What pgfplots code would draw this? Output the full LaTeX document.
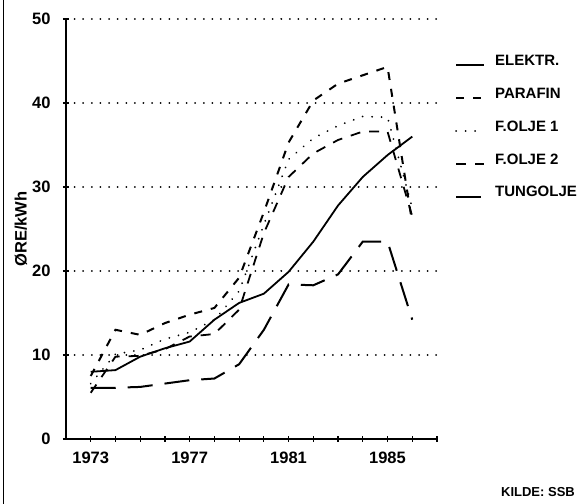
\documentclass[border=0pt]{standalone}
\usepackage{fontspec}
\setmainfont{Liberation Sans}
\usepackage{pgfplots}
\pgfplotsset{compat=1.18}

\begin{document}
\begin{tikzpicture}
\path[use as bounding box] (-66pt,-65pt) rectangle (516pt,439pt);
\draw[line width=0.8pt] (-63pt,-65pt) -- (-63pt,439pt);
\begin{axis}[
  scale only axis, width=371pt, height=420pt,
  xmin=1972, xmax=1987, ymin=0, ymax=50,
  axis x line=bottom, axis y line=left,
  axis line style={-, line width=1.6pt},
  xtick={1973,...,1987},
  xticklabels={1973,,,,1977,,,,1981,,,,1985,,},
  ytick={0,10,...,50},
  tick align=center, major tick length=6pt,
  tick style={line width=1.2pt, black},
  ymajorgrids,
  grid style={line width=2pt, line cap=round, dash pattern=on 0.01pt off 8.6pt, black},
  /pgf/number format/assume math mode=true,
  ticklabel style={font=\fontsize{16.5}{19}\selectfont\bfseries},
  xticklabel style={yshift=-6pt},
  yticklabel style={xshift=-9pt},
  ylabel={ØRE/kWh},
  every axis y label/.style={at={(axis description cs:-0.1213,0.5)}, rotate=90, anchor=center, font=\fontsize{16.5}{19}\selectfont\bfseries},
  legend style={draw=none, fill=none, at={(1.0485,0.918)}, anchor=north west,
    font=\fontsize{15}{18}\selectfont\bfseries, row sep=20.5pt, inner sep=0pt,
    nodes={inner sep=0pt, text height=11.5pt, text depth=0pt, anchor=base west}},
  legend cell align=left,
  legend image code/.code={\draw[#1] (0pt,0pt) -- (28pt,0pt); \path (38pt,0pt);},
]
\addplot[black, line width=1.8pt] coordinates {
 (1973,8.0)(1974,8.2)(1975,9.8)(1976,10.8)(1977,11.6)(1978,14.2)(1979,16.2)
 (1980,17.3)(1981,19.9)(1982,23.5)(1983,27.8)(1984,31.2)(1985,33.8)(1986,36.0)};
\addlegendentry{ELEKTR.}
\addplot[black, line width=2pt, dash pattern=on 8pt off 9pt] coordinates {
 (1973,7.5)(1974,13.0)(1975,12.4)(1976,13.8)(1977,14.8)(1978,15.6)(1979,19.2)
 (1980,27.0)(1981,35.3)(1982,40.3)(1983,42.3)(1984,43.3)(1985,44.3)(1986,25.7)};
\addlegendentry{PARAFIN}
\addplot[black, line width=2pt, line cap=round, dash pattern=on 0.01pt off 9.5pt] coordinates {
 (1973,6.6)(1974,10.1)(1975,10.6)(1976,11.9)(1977,12.7)(1978,14.2)(1979,17.6)
 (1980,25.5)(1981,33.3)(1982,35.8)(1983,37.3)(1984,38.4)(1985,38.3)(1986,27.5)};
\addlegendentry{F.OLJE 1}
\addplot[black, line width=1.8pt, dash pattern=on 10pt off 9pt] coordinates {
 (1973,5.5)(1974,9.8)(1975,9.9)(1976,10.7)(1977,12.2)(1978,12.5)(1979,15.4)
 (1980,24.5)(1981,31.2)(1982,34.0)(1983,35.6)(1984,36.6)(1985,36.6)(1986,26.5)};
\addlegendentry{F.OLJE 2}
\addplot[black, line width=2pt, dash pattern=on 25pt off 12pt] coordinates {
 (1973,6.1)(1974,6.1)(1975,6.2)(1976,6.6)(1977,7.0)(1978,7.2)(1979,8.9)
 (1980,13.0)(1981,18.4)(1982,18.3)(1983,19.6)(1984,23.5)(1985,23.5)(1986,14.2)};
\addlegendentry{TUNGOLJE}
\end{axis}
\node[font=\fontsize{13}{15}\selectfont\bfseries] at (472pt,-53pt) {KILDE: SSB};
\end{tikzpicture}
\end{document}
